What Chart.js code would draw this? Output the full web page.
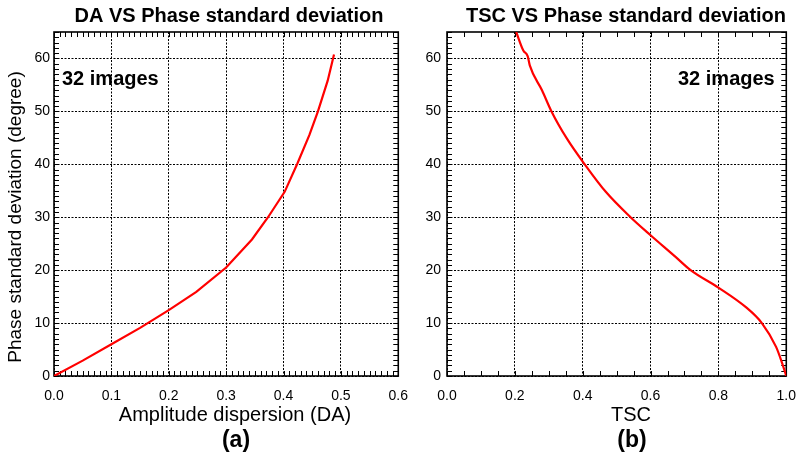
<!DOCTYPE html>
<html lang="en">
<head>
<meta charset="utf-8" />
<script src="https://cdn.jsdelivr.net/npm/chart.js"></script>
<title>DA / TSC vs Phase standard deviation</title>
<style>
  body { margin: 0; background: #fff; }
  #wrap { position: relative; width: 808px; height: 454px; }
  canvas { position: absolute; top: 0; }
</style>
</head>
<body>
<div id="wrap">
  <canvas id="chartA" width="420" height="454" style="left:0"></canvas>
  <canvas id="chartB" width="388" height="454" style="left:420px"></canvas>
</div>
<script>
// values
const daX      = [0, 0.05, 0.1, 0.15, 0.2, 0.248, 0.3, 0.345, 0.373, 0.402, 0.424, 0.445, 0.46, 0.477, 0.488];
const daPhase  = [0, 2.9, 6.0, 9.1, 12.45, 15.9, 20.5, 25.8, 30, 34.8, 40.1, 45.5, 50, 55.8, 60.75];
const tscX     = [0.204, 0.225, 0.238, 0.244, 0.28, 0.308, 0.354, 0.406, 0.468, 0.541, 0.6, 0.672, 0.718, 0.8, 0.881, 0.928, 0.97, 0.988, 1.0];
const tscPhase = [65, 61.5, 60.4, 58.7, 54, 50, 44.8, 40, 34.8, 30, 26.6, 22.6, 20, 16.7, 13, 10, 5.5, 2.4, 0];
const daTicks    = [0, 0.1, 0.2, 0.3, 0.4, 0.5, 0.6];
const tscTicks   = [0, 0.2, 0.4, 0.6, 0.8, 1.0];
const phaseTicks = [0, 10, 20, 30, 40, 50, 60];

const FONT = '"Liberation Sans", Arial, Helvetica, sans-serif';

// frame with inward minor ticks on all four sides (IDL style)
function frameTicks(xStep, yStep) {
  return {
    id: 'frameTicks',
    beforeDatasetsDraw(chart) {
      const { ctx, chartArea: a, scales: { x, y } } = chart;
      ctx.save();
      ctx.strokeStyle = '#000';
      ctx.lineWidth = 1;
      ctx.beginPath();
      const nx = Math.round((x.max - x.min) / xStep);
      for (let i = 0; i <= nx; i++) {
        const px = Math.round(x.getPixelForValue(x.min + i * xStep)) + 0.5;
        ctx.moveTo(px, a.bottom); ctx.lineTo(px, a.bottom - 5);
        ctx.moveTo(px, a.top); ctx.lineTo(px, a.top + 5);
      }
      const ny = Math.round((y.max - y.min) / yStep);
      for (let i = 0; i <= ny; i++) {
        const py = Math.round(y.getPixelForValue(y.min + i * yStep)) + 0.5;
        ctx.moveTo(a.left, py); ctx.lineTo(a.left + 5, py);
        ctx.moveTo(a.right, py); ctx.lineTo(a.right - 5, py);
      }
      ctx.stroke();
      ctx.lineWidth = 1.6;
      ctx.strokeRect(a.left, a.top, a.right - a.left, a.bottom - a.top);
      ctx.restore();
    }
  };
}

// titles and labels
function labels(t) {
  return {
    id: 'labels',
    afterDraw(chart) {
      const ctx = chart.ctx;
      ctx.save();
      ctx.fillStyle = '#000';
      ctx.textAlign = 'center';
      ctx.textBaseline = 'alphabetic';
      ctx.font = 'bold 20px ' + FONT;
      ctx.fillText(t.title, t.titleX, 22);
      ctx.font = '20px ' + FONT;
      ctx.fillText(t.xTitle, t.xTitleX, 421);
      ctx.font = 'bold 23px ' + FONT;
      ctx.fillText(t.panel, t.xTitleX + 1, 447);
      ctx.textAlign = 'left';
      ctx.font = 'bold 20px ' + FONT;
      ctx.fillText('32 images', t.noteX, 85);
      if (t.yTitle) {
        ctx.translate(16, 217);
        ctx.rotate(-Math.PI / 2);
        ctx.textAlign = 'center';
        ctx.textBaseline = 'middle';
        ctx.font = '19px ' + FONT;
        ctx.fillText(t.yTitle, 0, 0);
      }
      ctx.restore();
    }
  };
}

function makeChart(id, xs, ys, xMax, xTicks, yWidth, yPad, padRight, xMinor, smooth, text) {
  const pts = xs.map((v, i) => ({ x: v, y: ys[i] }));
  return new Chart(document.getElementById(id), {
    type: 'scatter',
    data: {
      datasets: [{
        data: pts,
        showLine: true,
        borderColor: '#ff0000',
        borderWidth: 2.2,
        pointRadius: 0,
        cubicInterpolationMode: smooth ? 'monotone' : 'default',
        tension: 0
      }]
    },
    options: {
      responsive: false,
      animation: false,
      events: [],
      layout: { padding: { left: 0, top: 32, right: padRight, bottom: 0 } },
      plugins: { legend: { display: false }, tooltip: { enabled: false } },
      scales: {
        x: {
          type: 'linear', min: 0, max: xMax,
          afterFit(s) { s.height = 78; },
          afterBuildTicks(s) { s.ticks = xTicks.map(v => ({ value: v })); },
          ticks: { color: '#000', padding: 12, maxRotation: 0, autoSkip: false,
                   font: { family: FONT, size: 14 }, callback: v => v.toFixed(1) },
          grid: { color: '#000', lineWidth: 1, drawTicks: false },
          border: { display: false, dash: [2, 1.5] }
        },
        y: {
          type: 'linear', min: 0, max: 65,
          afterFit(s) { s.width = yWidth; },
          afterBuildTicks(s) { s.ticks = phaseTicks.map(v => ({ value: v })); },
          ticks: { color: '#000', padding: yPad, font: { family: FONT, size: 14 },
                   callback: v => String(v) },
          grid: { color: '#000', lineWidth: 1, drawTicks: false },
          border: { display: false, dash: [2, 1.5] }
        }
      }
    },
    plugins: [frameTicks(xMinor, 1), labels(text)]
  });
}

makeChart('chartA', daX, daPhase, 0.6, daTicks, 54, 4, 11, 0.01, false, {
  title: 'DA VS Phase standard deviation', titleX: 229,
  xTitle: 'Amplitude dispersion (DA)', xTitleX: 235,
  panel: '(a)', noteX: 62,
  yTitle: 'Phase standard deviation (degree)'
});

makeChart('chartB', tscX, tscPhase, 1.0, tscTicks, 27, 6, 5, 0.05, true, {
  title: 'TSC VS Phase standard deviation', titleX: 206,
  xTitle: 'TSC', xTitleX: 211,
  panel: '(b)', noteX: 258
});
</script>
</body>
</html>
